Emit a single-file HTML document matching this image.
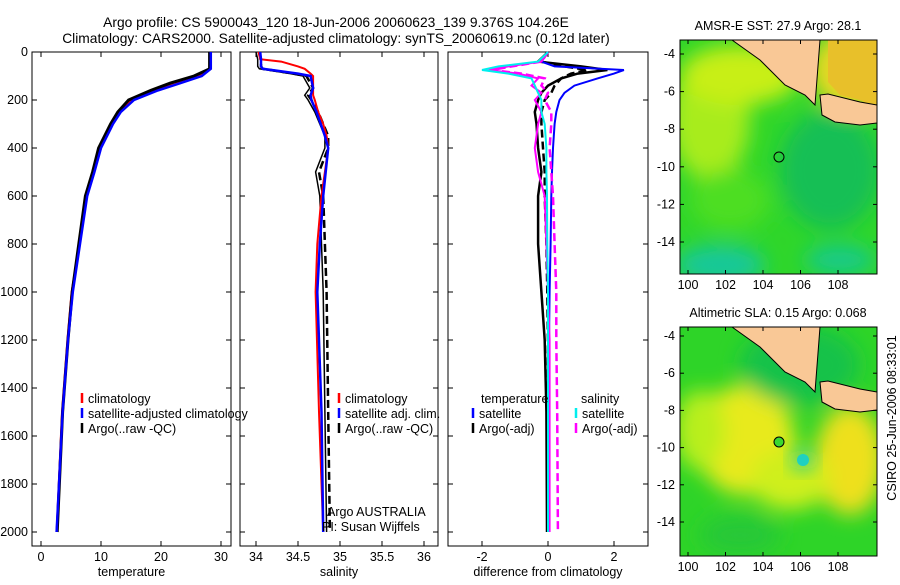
<!DOCTYPE html>
<html><head><meta charset="utf-8"><style>
body{margin:0;background:#fff;font-family:"Liberation Sans",sans-serif}
svg text{font-family:"Liberation Sans",sans-serif;font-size:12.5px;fill:#000}
svg text.ttl{font-size:13.8px}
</style></head><body>
<svg id="fig" width="900" height="580" xmlns="http://www.w3.org/2000/svg">
<defs>
<filter id="bl" x="-50%" y="-50%" width="200%" height="200%"><feGaussianBlur stdDeviation="10"/></filter>
<clipPath id="c1"><rect x="680" y="40" width="197" height="234"/></clipPath>
<clipPath id="c2"><rect x="680" y="327" width="197" height="229"/></clipPath>
</defs>
<text class="ttl" x="336" y="27" text-anchor="middle">Argo profile: CS 5900043_120 18-Jun-2006 20060623_139 9.376S 104.26E</text>
<text class="ttl" x="336" y="43" text-anchor="middle">Climatology: CARS2000. Satellite-adjusted climatology: synTS_20060619.nc (0.12d later)</text>
<g id="plots"></g>
<!-- map 1 -->
<g clip-path="url(#c1)">
<rect x="680" y="40" width="197" height="234" fill="#2fd62a"/>
<g filter="url(#bl)">
<ellipse cx="710" cy="120" rx="40" ry="60" fill="#a8ec1a"/>
<ellipse cx="740" cy="75" rx="60" ry="30" fill="#c8ef12"/>
<ellipse cx="850" cy="70" rx="40" ry="40" fill="#e8d820"/>
<ellipse cx="730" cy="200" rx="40" ry="30" fill="#4ede20"/>
<ellipse cx="720" cy="265" rx="45" ry="20" fill="#14c89a"/>
<ellipse cx="840" cy="260" rx="35" ry="15" fill="#16c98a"/>
<ellipse cx="830" cy="170" rx="50" ry="60" fill="#18bf55"/>
</g>
<path d="M732,40 L760,60 L785,85 L805,95 L815,105 L820,40 Z" fill="#f9c896" stroke="#000" stroke-width="1"/>
<path d="M828,40 L828,82 L840,95 L860,100 L877,108 L877,40 Z" fill="#e8c02a"/>
<path d="M820,95 L828,94 L860,102 L877,105 L877,123 L860,125 L835,122 L822,115 Z" fill="#f9c896" stroke="#000" stroke-width="1"/>
<circle cx="779" cy="157" r="5" fill="none" stroke="#000"/>
</g>
<rect x="680" y="40" width="197" height="234" fill="none" stroke="#000"/>
<text x="778" y="30" text-anchor="middle">AMSR-E SST: 27.9 Argo: 28.1</text>
<!-- map 2 -->
<g clip-path="url(#c2)">
<rect x="680" y="327" width="197" height="229" fill="#2ed428"/>
<g filter="url(#bl)">
<ellipse cx="745" cy="440" rx="50" ry="55" fill="#e8ea1a"/>
<ellipse cx="850" cy="460" rx="35" ry="55" fill="#eee01a"/>
<ellipse cx="700" cy="430" rx="25" ry="40" fill="#b9ef1a"/>
<ellipse cx="790" cy="480" rx="40" ry="30" fill="#cfef1a"/>
<ellipse cx="800" cy="365" rx="60" ry="40" fill="#15c24a"/>
<ellipse cx="740" cy="535" rx="40" ry="20" fill="#28c838"/>
</g>
<circle cx="803" cy="460" r="10" fill="#18c8a0" filter="url(#bl)"/>
<circle cx="803" cy="460" r="6" fill="#20d0c0"/>
<path d="M732,327 L760,347 L785,372 L805,382 L815,392 L820,327 Z" fill="#f9c896" stroke="#000" stroke-width="1"/>
<path d="M820,382 L828,381 L860,389 L877,392 L877,410 L860,412 L835,409 L822,402 Z" fill="#f9c896" stroke="#000" stroke-width="1"/>
<circle cx="779" cy="442" r="5" fill="#3ad830" stroke="#000"/>
</g>
<rect x="680" y="327" width="197" height="229" fill="none" stroke="#000"/>
<text x="778" y="317" text-anchor="middle">Altimetric SLA: 0.15 Argo: 0.068</text>
<text transform="translate(896,418) rotate(-90)" text-anchor="middle">CSIRO 25-Jun-2006 08:33:01</text>
<g id="mapaxes"></g>
</svg>
<script>
// ---- data ----
const depthT=[0,70,100,130,160,200,250,300,400,500,600,800,1000,1200,1500,2000];
const tempArgo=[28.1,28.1,25.5,21.5,18.3,14.6,12.8,11.6,9.6,8.6,7.4,6.3,5.2,4.5,3.6,2.7];
const tempClim=[28.2,28.2,26.2,22,18.8,15,13,11.9,9.8,8.7,7.6,6.4,5.1,4.4,3.5,2.6];
const tempSat=[28.3,28.3,26.8,23.2,19.5,15.5,13.3,12,10,8.9,7.7,6.5,5.3,4.5,3.6,2.6];
const depthS=[0,30,40,60,70,90,100,150,180,200,250,300,350,400,500,600,800,1000,1500,2000];
const salArgo=[34.04,34.06,34.06,34.06,34.08,34.45,34.6,34.68,34.62,34.66,34.74,34.8,34.86,34.86,34.75,34.8,34.82,34.84,34.86,34.88];
const salClim=[34.03,34.05,34.3,34.5,34.58,34.65,34.68,34.68,34.68,34.7,34.74,34.8,34.84,34.86,34.82,34.78,34.73,34.71,34.75,34.8];
const salSat=[34.05,34.06,34.06,34.06,34.08,34.5,34.65,34.68,34.65,34.66,34.72,34.77,34.82,34.86,34.83,34.8,34.76,34.73,34.78,34.8];
const depthD=[0,40,60,75,90,110,140,170,200,250,300,400,500,600,800,1000,1200,1500,2000];
const dTsat=[0,-0.2,0.2,2.3,2.0,1.5,0.8,0.5,0.35,0.25,0.2,0.15,0.12,0.1,0.08,0.05,0.03,0.02,0.0];
const dTargo=[0,-0.3,1.0,1.8,0.9,0.4,0.0,-0.2,-0.3,-0.4,-0.35,-0.3,-0.2,-0.3,-0.3,-0.2,-0.1,-0.05,-0.03];
const dTargoAdj=[0,-0.2,0.5,1.2,0.7,0.4,0.2,0.1,-0.1,-0.2,-0.2,-0.15,-0.1,-0.1,-0.05,-0.02,0,0,0];
const dSsat=[0,-0.3,-1.5,-2.0,-1.2,-0.5,-0.4,-0.3,-0.2,-0.2,-0.1,-0.05,-0.05,-0.03,-0.02,0,0,0,0];
const dSargo=[0,-0.2,-1.2,-1.8,-0.9,-0.3,-0.5,-0.2,-0.4,-0.2,-0.3,-0.4,-0.3,-0.1,-0.05,0,0.05,0.05,0.05];
const dSargoAdj=[0,-0.2,-1.1,-1.7,-0.8,-0.1,-0.2,0,-0.1,0.1,0.1,0.05,0.1,0.15,0.2,0.25,0.25,0.28,0.3];
const tempTicks=[0,10,20,30], salTicks=[34,34.5,35,35.5,36], diffTicks=[-2,0,2];
const depthTicks=[0,200,400,600,800,1000,1200,1400,1600,1800,2000];
const lonTicks=[100,102,104,106,108], latTicks=[-4,-6,-8,-10,-12,-14];
// ---- helpers ----
const NS='http://www.w3.org/2000/svg';
const G=document.getElementById('plots');
function mk(t,a,p){const e=document.createElementNS(NS,t);for(const k in a)e.setAttribute(k,a[k]);(p||G).appendChild(e);return e;}
const yD=d=>52+d*0.24;
const panels=[
 {x0:32,x1:231,fx:v=>41+6*v,ticks:tempTicks,lab:'temperature',name:'temperature-panel'},
 {x0:240,x1:438,fx:v=>256+84*(v-34),ticks:salTicks,lab:'salinity',name:'salinity-panel'},
 {x0:448,x1:648,fx:v=>548+33*v,ticks:diffTicks,lab:'difference from climatology',name:'difference-panel'}];
panels.forEach((p,i)=>{
 const r=mk('rect',{x:p.x0,y:52,width:p.x1-p.x0,height:494,fill:'none',stroke:'#000'});
 
 
 p.ticks.forEach(t=>{const x=p.fx(t);
  mk('line',{x1:x,x2:x,y1:52,y2:57,stroke:'#000'});mk('line',{x1:x,x2:x,y1:546,y2:541,stroke:'#000'});
  const tx=mk('text',{x:x,y:561,'text-anchor':'middle'});tx.textContent=t;
  
  });
 depthTicks.forEach(d=>{const y=yD(d);
  mk('line',{x1:p.x0,x2:p.x0+5,y1:y,y2:y,stroke:'#000'});mk('line',{x1:p.x1,x2:p.x1-5,y1:y,y2:y,stroke:'#000'});
  if(i==0){const tx=mk('text',{x:28,y:y+4,'text-anchor':'end'});tx.textContent=d;
   
   }});
 const xl=mk('text',{x:(p.x0+p.x1)/2,y:576,'text-anchor':'middle'});xl.textContent=p.lab;
 
 
});
function line(p,ds,vs,col,w,dash,name){
 const d=ds.map((dd,k)=>(k?'L':'M')+p.fx(vs[k]).toFixed(1)+','+yD(dd).toFixed(1)).join('');
 const e=mk('path',{d:d,fill:'none',stroke:col,'stroke-width':w});
 if(dash)e.setAttribute('stroke-dasharray',dash);
 
 
}
const [P1,P2,P3]=panels;
line(P1,depthT,tempClim,'#f00',2,null,'temp-climatology-line');
line(P1,depthT,tempArgo,'#000',3,null,'temp-argo-line');
line(P1,depthT,tempSat,'#00f',2.5,null,'temp-satellite-line');
line(P2,depthS,salArgo,'#000',2.5,'8,4','sal-argo-qc-line');
line(P2,depthS,salArgo.map(v=>v-0.04),'#000',1.5,null,'sal-argo-raw-line');
line(P2,depthS,salClim,'#f00',2,null,'sal-climatology-line');
line(P2,depthS,salSat,'#00f',2.5,null,'sal-satellite-line');
line(P3,depthD,dTargo,'#000',2.5,null,'diff-temp-argo-line');
line(P3,depthD,dTargoAdj,'#000',2.5,'8,4','diff-temp-argo-adj-line');
line(P3,depthD,dTsat,'#00f',2,null,'diff-temp-satellite-line');
line(P3,depthD,dSargo,'#f0f',2,null,'diff-sal-argo-line');
line(P3,depthD,dSargoAdj,'#f0f',2.5,'8,4','diff-sal-argo-adj-line');
line(P3,depthD,dSsat,'#0ee',2,null,'diff-sal-satellite-line');
function leg(x,y,col,txt,dash){
 const l=mk('line',{x1:x,x2:x,y1:y-10,y2:y,stroke:col,'stroke-width':2.5});
 if(dash)l.setAttribute('stroke-dasharray','3,2');
 const t=mk('text',{x:x+6,y:y});t.textContent=txt;
 
 
}
leg(82,403,'#f00','climatology');leg(82,418,'#00f','satellite-adjusted climatology');leg(82,433,'#000','Argo(..raw -QC)');
leg(339,403,'#f00','climatology');leg(339,418,'#00f','satellite adj. clim.');leg(339,433,'#000','Argo(..raw -QC)');
let t=mk('text',{x:481,y:403});t.textContent='temperature';
t=mk('text',{x:581,y:403});t.textContent='salinity';
leg(473,418,'#00f','satellite');leg(473,433,'#000','Argo(-adj)');
leg(576,418,'#0ee','satellite');leg(576,433,'#f0f','Argo(-adj)');
t=mk('text',{x:327,y:516});t.textContent='Argo AUSTRALIA';


t=mk('text',{x:322,y:531});t.textContent='PI: Susan Wijffels';


// map axes
const MA=document.getElementById('mapaxes');
const lonX=v=>688+(v-100)*18.75;
[[40,274,54,242],[327,556,336,522]].forEach(([y0,y1,la4,la14])=>{
 lonTicks.forEach(v=>{const x=lonX(v);
  mk('line',{x1:x,x2:x,y1:y1,y2:y1-4,stroke:'#000'},MA);mk('line',{x1:x,x2:x,y1:y0,y2:y0+4,stroke:'#000'},MA);
  const tx=mk('text',{x:x,y:y1+15,'text-anchor':'middle'},MA);tx.textContent=v;
  
  });
 latTicks.forEach(v=>{const y=la4+(-4-v)*(la14-la4)/10;
  mk('line',{x1:680,x2:684,y1:y,y2:y,stroke:'#000'},MA);mk('line',{x1:877,x2:873,y1:y,y2:y,stroke:'#000'},MA);
  const tx=mk('text',{x:675,y:y+4,'text-anchor':'end'},MA);tx.textContent=v;
  
  });
});
</script>
</body></html>
